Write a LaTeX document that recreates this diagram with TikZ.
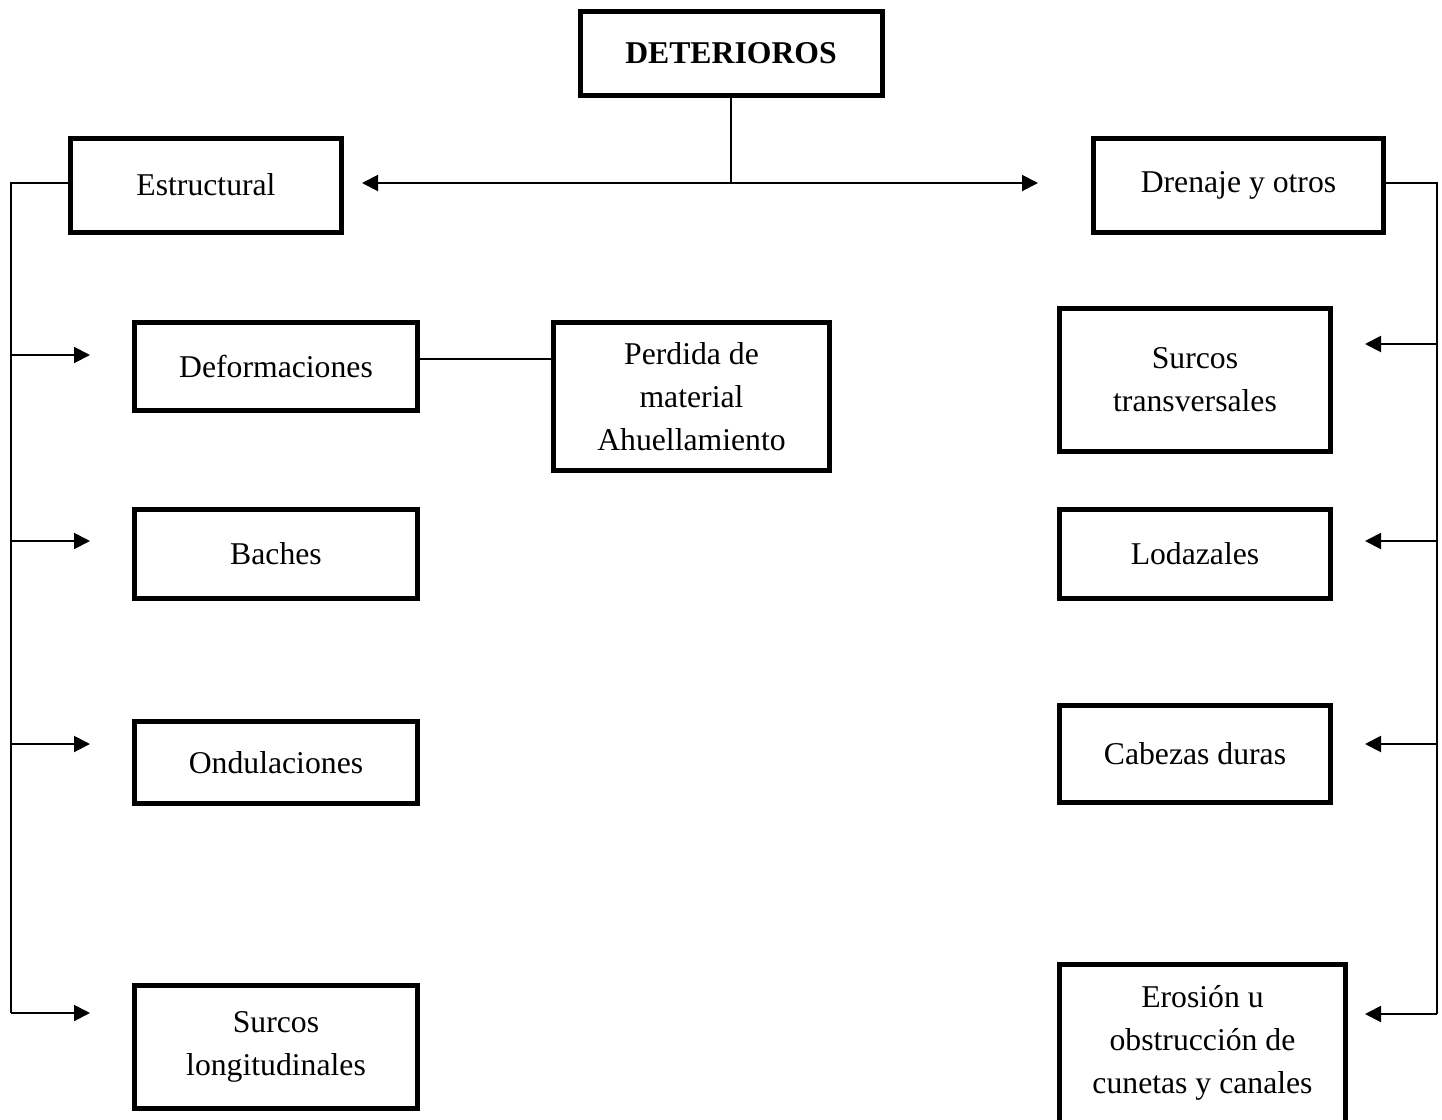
\documentclass[tikz,border=0pt]{standalone}
\usepackage{fontspec}
\setmainfont{Liberation Serif}
\usetikzlibrary{arrows.meta}

\begin{document}
\begin{tikzpicture}[x=0.5pt, y=-0.5pt,
  every node/.style={font=\fontsize{15.85}{21.5}\selectfont, align=center, inner sep=0pt},
  caja/.style={draw, line width=2.5pt},
  linea/.style={line width=1pt},
  flecha/.style={line width=1pt, -{Triangle[length=8pt,width=8pt]}},
  flechas/.style={line width=1pt, {Triangle[length=8pt,width=8pt]}-{Triangle[length=8pt,width=8pt]}}]
\clip (0,0) rectangle (1442,1120);
% cabecera
\node[caja, minimum width=151pt, minimum height=42pt] (det) at (731,53) {\textbf{DETERIOROS}};
\node[caja, minimum width=135.5pt, minimum height=47pt] (estr) at (206,185) {Estructural};
\node[caja, minimum width=145pt, minimum height=47pt] (dren) at (1238.5,185.5) {Drenaje y otros};
% lado estructural
\node[caja, minimum width=141.5pt, minimum height=44pt] (defo) at (276,366.5) {Deformaciones};
\node[caja, minimum width=138pt, minimum height=74pt] (perd) at (691.5,396.5) {Perdida de\\material\\Ahuellamiento};
\node[caja, minimum width=141.5pt, minimum height=44.5pt] (bach) at (276,554) {Baches};
\node[caja, minimum width=141.5pt, minimum height=41pt] (ondu) at (276,762.5) {Ondulaciones};
\node[caja, minimum width=141.5pt, minimum height=61.5pt] (surl) at (276,1047) {Surcos\\longitudinales};
% lado drenaje
\node[caja, minimum width=135.5pt, minimum height=71.5pt] (surt) at (1195,380) {Surcos\\transversales};
\node[caja, minimum width=135.5pt, minimum height=44.5pt] (loda) at (1195,554) {Lodazales};
\node[caja, minimum width=135.5pt, minimum height=48.5pt] (cabe) at (1195,754) {Cabezas duras};
\node[caja, minimum width=143pt, minimum height=79pt] (eros) at (1202.5,1043) {Erosión u\\obstrucción de\\cunetas y canales};

% conectores
\coordinate (izqA) at (11,183);
\coordinate (izqB) at (11,1013);
\coordinate (derA) at (1437,183);
\coordinate (derB) at (1437,1014);
\draw[linea] (det.south) -- (det.south |- izqA);
\draw[flechas] ([xshift=9pt]estr.east |- izqA) -- ([xshift=-26.5pt]dren.west |- izqA);
\draw[linea] ([yshift=4pt]defo.east) -- ([yshift=4pt]defo.east -| perd.west);

\draw[linea] (estr.west |- izqA) -- (izqA) -- (izqB);
\foreach \n/\y in {defo/355, bach/541, ondu/744, surl/1013} {
  \coordinate (l\n) at (90,\y);
  \draw[flecha] (l\n -| izqA) -- (l\n);
}
\draw[linea] (dren.east |- derA) -- (derA) -- (derB);
\foreach \n/\y in {surt/344, loda/541, cabe/744, eros/1014} {
  \coordinate (r\n) at (1365,\y);
  \draw[flecha] (r\n -| derA) -- (r\n);
}
\end{tikzpicture}
\end{document}
